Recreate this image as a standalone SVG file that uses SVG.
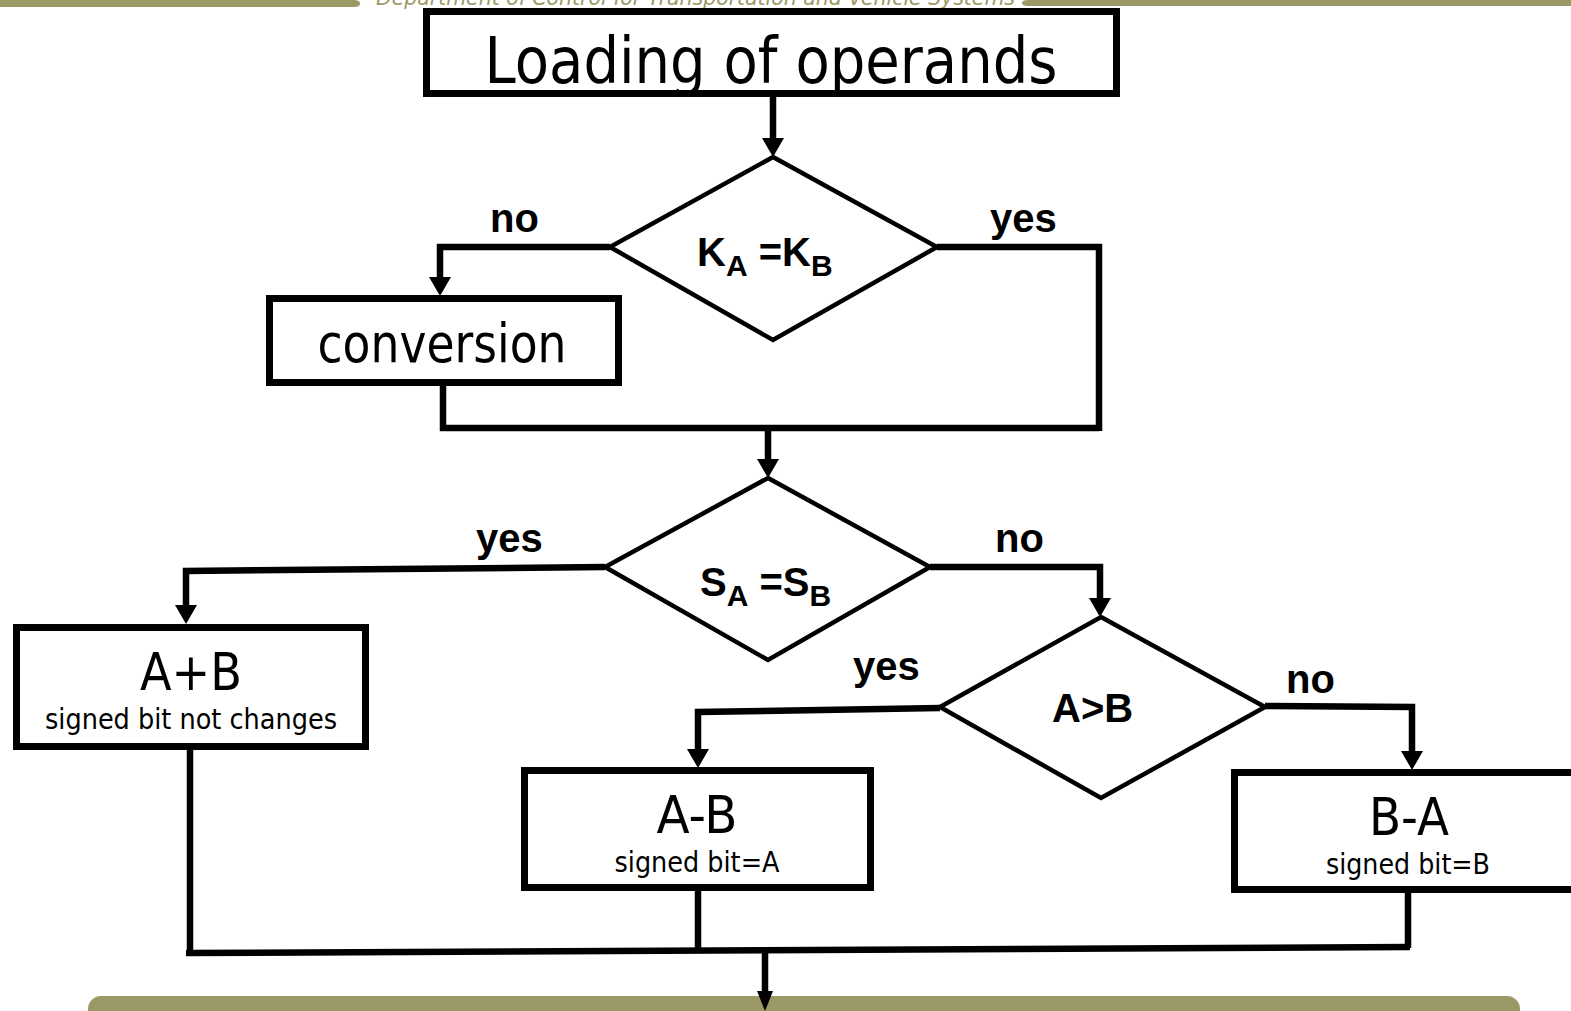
<svg xmlns="http://www.w3.org/2000/svg" width="1571" height="1011" viewBox="0 0 1571 1011">
<style>
.box{fill:#fff;stroke:#000;stroke-width:7}
.dia{fill:#fff;stroke:#000;stroke-width:4.5;stroke-linejoin:miter}
.con{fill:none;stroke:#000;stroke-width:6.5;stroke-linejoin:miter}
.big{font-family:"DejaVu Sans",Verdana,sans-serif;fill:#000;text-anchor:middle}
.lbl{font-family:"Liberation Sans",Arial,sans-serif;font-weight:bold;font-size:40px;fill:#000}
.olive{fill:#9b9965}
</style>
<defs>
<marker id="arr" viewBox="0 0 19 22" markerWidth="19" markerHeight="22" refX="1" refY="11" markerUnits="userSpaceOnUse" orient="auto">
<path d="M0,0 L19,11 L0,22 z" fill="#000"/>
</marker>
<marker id="arr2" viewBox="0 0 20 16" markerWidth="20" markerHeight="16" refX="1" refY="8" markerUnits="userSpaceOnUse" orient="auto">
<path d="M0,0 L20,8 L0,16 z" fill="#000"/>
</marker>
</defs>
<g id="header">
<path class="olive" d="M0,0 H354 Q360,0 360,3.5 Q360,7 354,7 H0 z"/>
<path class="olive" d="M1571,0 H1028 Q1022,0 1022,3 Q1022,6 1028,6 H1571 z"/>
<text x="376" y="5" font-family="DejaVu Sans,sans-serif" font-style="italic" font-size="22" fill="#9b9965" textLength="639" lengthAdjust="spacingAndGlyphs">Department of Control for Transportation and Vehicle Systems</text>
</g>
<g id="footer">
<rect class="olive" x="88" y="996" width="1432" height="40" rx="13"/>
</g>
<g id="connectors">
<path class="con" d="M773,97 V139" marker-end="url(#arr)"/>
<path class="con" d="M610,247 H440 V278" marker-end="url(#arr)"/>
<path class="con" d="M443,386 V428 H1099"/>
<path class="con" d="M937,247 H1099 V431"/>
<path class="con" d="M768,428 V460" marker-end="url(#arr)"/>
<path class="con" d="M605,567 L186,571 V606" marker-end="url(#arr)"/>
<path class="con" d="M930,567 H1100 V599" marker-end="url(#arr)"/>
<path class="con" d="M940,708 L698,712 V750" marker-end="url(#arr)"/>
<path class="con" d="M1265,706 L1412,707 V752" marker-end="url(#arr)"/>
<path class="con" d="M190,749 V952"/>
<path class="con" d="M698,890 V949"/>
<path class="con" d="M1408,892 V948"/>
<path class="con" d="M186,953 L1410,947" stroke-width="8"/>
<path class="con" d="M765,950 V992" stroke-width="4" marker-end="url(#arr2)"/>
</g>
<g id="loading">
<rect class="box" x="426.5" y="11.5" width="690" height="82"/>
<text class="big" x="771" y="83" font-size="64" textLength="573" lengthAdjust="spacingAndGlyphs">Loading of operands</text>
</g>
<g id="decision-k">
<polygon class="dia" points="773,157 937,247 773,340 610,247"/>
<text class="lbl" x="697" y="266">K<tspan font-size="30" dy="10">A</tspan><tspan dy="-10"> =K</tspan><tspan font-size="30" dy="10">B</tspan></text>
<text class="lbl" x="490" y="232">no</text>
<text class="lbl" x="990" y="232">yes</text>
</g>
<g id="conversion">
<rect class="box" x="269.5" y="298.5" width="349" height="84"/>
<text class="big" x="442" y="362" font-size="54" textLength="249" lengthAdjust="spacingAndGlyphs">conversion</text>
</g>
<g id="decision-s">
<polygon class="dia" points="768,478 930,567 768,660 605,567"/>
<text class="lbl" x="700" y="596">S<tspan font-size="30" dy="10">A</tspan><tspan dy="-10"> =S</tspan><tspan font-size="30" dy="10">B</tspan></text>
<text class="lbl" x="476" y="552">yes</text>
<text class="lbl" x="995" y="552">no</text>
</g>
<g id="decision-ab">
<polygon class="dia" points="1101,617 1265,707 1101,798 940,707"/>
<text class="lbl" x="1052" y="722">A&gt;B</text>
<text class="lbl" x="853" y="680">yes</text>
<text class="lbl" x="1286" y="693">no</text>
</g>
<g id="sum">
<rect class="box" x="16.5" y="627.5" width="349" height="119"/>
<text class="big" x="191" y="690" font-size="52" textLength="102" lengthAdjust="spacingAndGlyphs">A+B</text>
<text class="big" x="191" y="729" font-size="28" textLength="292" lengthAdjust="spacingAndGlyphs">signed bit not changes</text>
</g>
<g id="a-minus-b">
<rect class="box" x="524.5" y="770.5" width="346" height="117"/>
<text class="big" x="697" y="833" font-size="52" textLength="81" lengthAdjust="spacingAndGlyphs">A-B</text>
<text class="big" x="697" y="872" font-size="28" textLength="165" lengthAdjust="spacingAndGlyphs">signed bit=A</text>
</g>
<g id="b-minus-a">
<rect class="box" x="1234.5" y="772.5" width="350" height="117"/>
<text class="big" x="1409" y="835" font-size="52" textLength="80" lengthAdjust="spacingAndGlyphs">B-A</text>
<text class="big" x="1408" y="874" font-size="28" textLength="164" lengthAdjust="spacingAndGlyphs">signed bit=B</text>
</g>
</svg>
